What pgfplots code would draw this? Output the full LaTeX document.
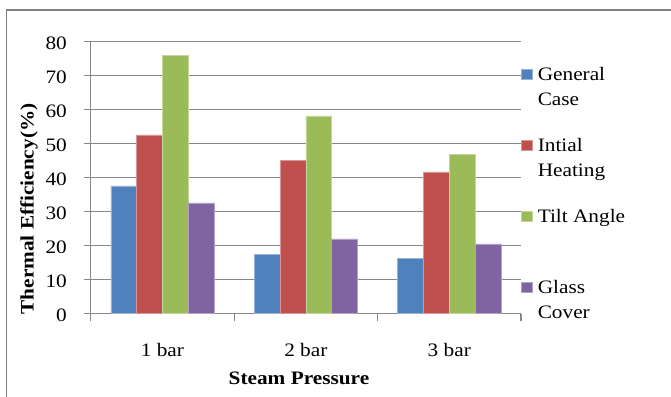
\documentclass[border=0pt]{standalone}
\usepackage{fontspec}
\setmainfont{Liberation Serif}[FakeStretch=1.12]
\usepackage{pgfplots}
\pgfplotsset{compat=1.18}
\definecolor{cblue}{HTML}{4F81BD}
\definecolor{cred}{HTML}{C0504D}
\definecolor{cgreen}{HTML}{9BBB59}
\definecolor{cpurple}{HTML}{8064A2}
\definecolor{gridc}{RGB}{134,134,134}
\definecolor{framec}{RGB}{128,128,128}
\begin{document}
\fontsize{19}{25}\selectfont
\begin{tikzpicture}
\useasboundingbox (0,0) rectangle (671pt,396pt);
\draw[framec, line width=1.5pt] (6.5pt,-20pt) rectangle (700pt,386pt);
\begin{axis}[
  at={(90.7pt,82.3pt)}, anchor=south west,
  scale only axis, width=430.3pt, height=272pt,
  ymin=0, ymax=80, ytick={0,10,...,80},
  xmin=-0.5, xmax=2.5,
  xtick={-0.5,0.5,1.5,2.5},
  x tick label as interval,
  xticklabels={1 bar,2 bar,3 bar},
  axis x line=bottom, axis y line=left,
  axis line style={-, draw=gridc, line width=1.2pt},
  ymajorgrids, grid style={draw=gridc, line width=1.2pt},
  tick align=outside, major tick length=7pt,
  tick style={draw=gridc, line width=1.2pt},
  /pgf/number format/assume math mode=true,
  yticklabel style={anchor=east, inner sep=0pt, xshift=-16.7pt, yshift=-2pt},
  xticklabel style={anchor=base, inner sep=0pt, yshift=-35.3pt},
  xlabel={\textbf{Steam Pressure}},
  xlabel style={at={(rel axis cs:0.484,-0.2585)}, anchor=base, inner sep=0pt},
  ylabel={\textbf{Thermal Efficiency(\%)}},
  ylabel style={at={(rel axis cs:-0.1434,0.385)}, anchor=center, inner sep=0pt},
  ybar=0pt, bar width=25.8pt,
  legend style={at={(rel axis cs:1,0.921)}, anchor=north west, draw=none, fill=none,
    inner sep=0pt, row sep=21pt, column sep=5.5pt, cells={anchor=base west},
    nodes={inner sep=0pt, text height=17.5pt, text depth=32.5pt}},
  legend image code/.code={\fill[#1] (0pt,1.5pt) rectangle (10.5pt,12pt);},
]
\addplot[fill=cblue, draw=cblue!60!white, line width=0.6pt] coordinates {(0,37.6) (1,17.5) (2,16.3)};
\addplot[fill=cred, draw=cred!60!white, line width=0.6pt] coordinates {(0,52.6) (1,45.0) (2,41.7)};
\addplot[fill=cgreen, draw=cgreen!60!white, line width=0.6pt] coordinates {(0,76.0) (1,58.2) (2,46.9)};
\addplot[fill=cpurple, draw=cpurple!60!white, line width=0.6pt] coordinates {(0,32.6) (1,22.0) (2,20.5)};
\addlegendentry{\begin{tabular}[t]{@{}l@{}}General\\Case\end{tabular}}
\addlegendentry{\begin{tabular}[t]{@{}l@{}}Intial\\Heating\end{tabular}}
\addlegendentry{\begin{tabular}[t]{@{}l@{}}Tilt Angle\\\strut\end{tabular}}
\addlegendentry{\begin{tabular}[t]{@{}l@{}}Glass\\Cover\end{tabular}}
\end{axis}
\end{tikzpicture}
\end{document}
